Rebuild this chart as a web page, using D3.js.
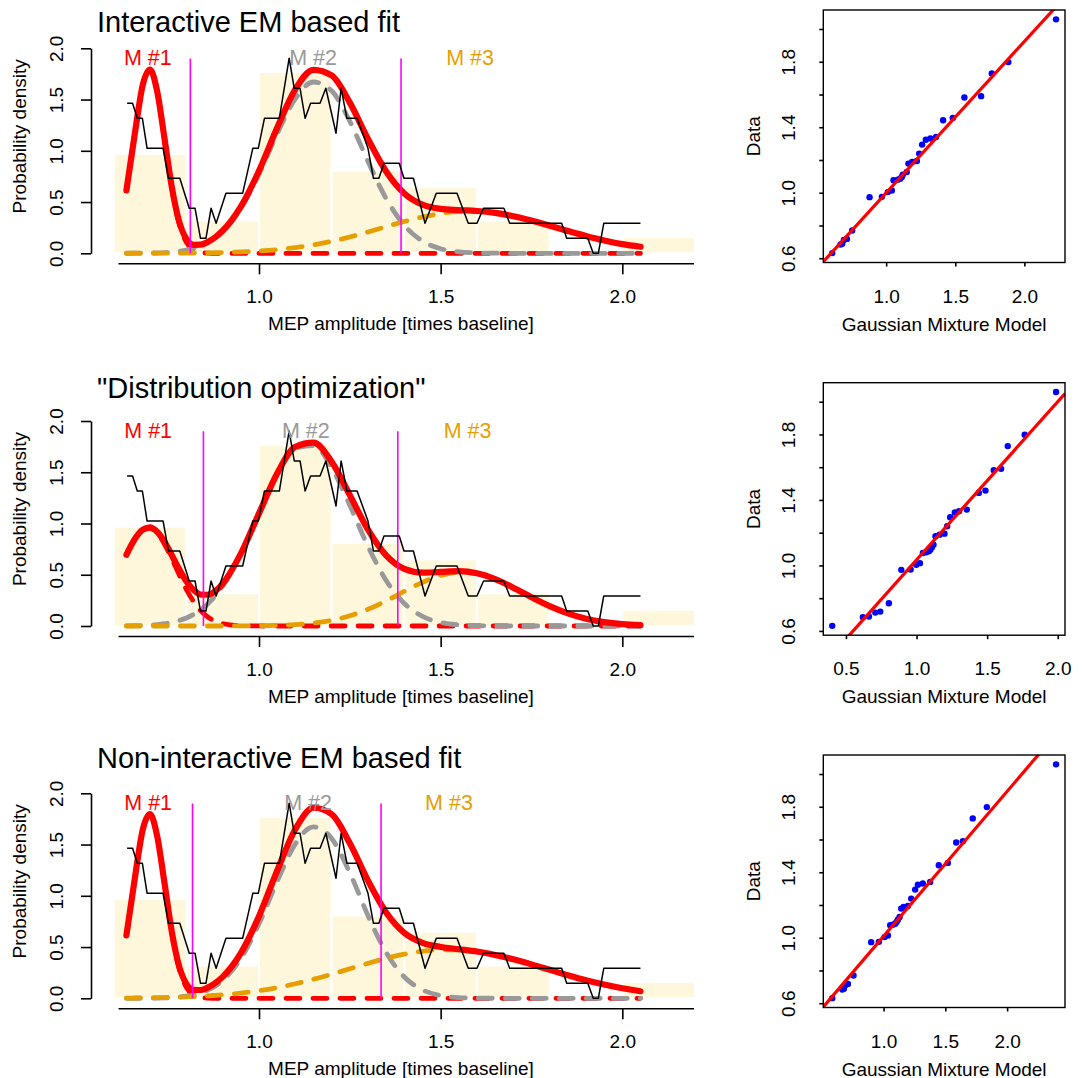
<!DOCTYPE html>
<html>
<head>
<meta charset="utf-8">
<script src="https://cdn.jsdelivr.net/npm/d3@7"></script>
<style>
  body { margin: 0; background: #fff; }
  svg { display: block; }
</style>
</head>
<body>
<div id="chart"></div>
<script>
// ---------- data ----------
const titles = ["Interactive EM based fit", "\"Distribution optimization\"", "Non-interactive EM based fit"];
const compLabels = ["M #1", "M #2", "M #3"];

// histogram of the amplitudes (density scale)
const histBreaks = [0.6, 0.8, 1.0, 1.2, 1.4, 1.6, 1.8, 2.0, 2.2];
const histDensity = [0.97, 0.32, 1.77, 0.81, 0.65, 0.32, 0, 0.16];

// sliding window density (black line), same in every panel
const slideX = [0.637, 0.652, 0.665, 0.679, 0.692, 0.736, 0.751, 0.782, 0.808, 0.824, 0.839, 0.854, 0.868, 0.882, 0.909, 0.955, 0.983, 0.998, 1.015, 1.056, 1.083, 1.097, 1.113, 1.127, 1.142, 1.168, 1.184, 1.212, 1.226, 1.242, 1.270, 1.300, 1.315, 1.330, 1.344, 1.386, 1.399, 1.425, 1.457, 1.488, 1.545, 1.576, 1.600, 1.618, 1.674, 1.690, 1.833, 1.847, 1.905, 1.920, 1.934, 1.949, 2.050];
const slideY = [1.463, 1.463, 1.317, 1.317, 1.024, 1.024, 0.732, 0.732, 0.439, 0.439, 0.146, 0.146, 0.439, 0.293, 0.585, 0.585, 1.024, 1.024, 1.317, 1.317, 1.903, 1.610, 1.610, 1.317, 1.463, 1.463, 1.610, 1.171, 1.610, 1.317, 1.317, 1.024, 0.732, 0.732, 0.878, 0.878, 0.732, 0.732, 0.293, 0.585, 0.585, 0.293, 0.293, 0.439, 0.439, 0.293, 0.293, 0.146, 0.146, 0, 0, 0.293, 0.293];

// x positions where the fitted curves were read
const curveX = [0.635, 0.66, 0.68, 0.70, 0.72, 0.74, 0.76, 0.78, 0.80, 0.82, 0.84, 0.86, 0.88, 0.90, 0.95, 1.00, 1.05, 1.10, 1.15, 1.20, 1.25, 1.30, 1.35, 1.40, 1.45, 1.50, 1.55, 1.60, 1.65, 1.70, 1.75, 1.80, 1.85, 1.90, 1.95, 2.00, 2.05];

// panel 1: interactive EM
const fit1Total = [0.613, 1.211, 1.642, 1.793, 1.575, 1.118, 0.647, 0.313, 0.141, 0.083, 0.084, 0.113, 0.158, 0.220, 0.455, 0.805, 1.225, 1.600, 1.790, 1.735, 1.470, 1.115, 0.798, 0.584, 0.474, 0.433, 0.421, 0.413, 0.394, 0.362, 0.319, 0.269, 0.218, 0.169, 0.125, 0.089, 0.064];
const fit1M1 = [0.612, 1.21, 1.64, 1.79, 1.57, 1.11, 0.633, 0.291, 0.107, 0.032, 0.008, 0.002, 0, 0, 0, 0, 0, 0, 0, 0, 0, 0, 0, 0, 0, 0, 0, 0, 0, 0, 0, 0, 0, 0, 0, 0, 0];
const fit1M2 = [0.0003, 0.0008, 0.0014, 0.0025, 0.0044, 0.0074, 0.012, 0.020, 0.032, 0.049, 0.073, 0.107, 0.153, 0.213, 0.438, 0.772, 1.166, 1.508, 1.671, 1.585, 1.288, 0.896, 0.534, 0.273, 0.119, 0.045, 0.014, 0.004, 0.001, 0, 0, 0, 0, 0, 0, 0, 0];
const fit1M3 = [0.0002, 0.0003, 0.0004, 0.0005, 0.0007, 0.0009, 0.0012, 0.0016, 0.0021, 0.0027, 0.0035, 0.0046, 0.0058, 0.0074, 0.013, 0.022, 0.036, 0.056, 0.082, 0.117, 0.159, 0.208, 0.259, 0.310, 0.354, 0.388, 0.407, 0.409, 0.393, 0.362, 0.319, 0.269, 0.218, 0.169, 0.125, 0.089, 0.064];
const fit1Cuts = [0.811, 1.391];
const fit1Means = [0.694, 1.149, 1.581];

// panel 2: distribution optimization
const fit2Total = [0.695, 0.859, 0.941, 0.962, 0.917, 0.821, 0.691, 0.555, 0.436, 0.351, 0.306, 0.305, 0.342, 0.413, 0.706, 1.099, 1.487, 1.749, 1.789, 1.602, 1.277, 0.940, 0.689, 0.557, 0.520, 0.528, 0.535, 0.514, 0.457, 0.374, 0.281, 0.194, 0.123, 0.071, 0.038, 0.018, 0.008];
const fit2M1 = [0.693, 0.856, 0.936, 0.953, 0.903, 0.798, 0.656, 0.502, 0.358, 0.238, 0.147, 0.085, 0.046, 0.023, 0.003, 0.0003, 0, 0, 0, 0, 0, 0, 0, 0, 0, 0, 0, 0, 0, 0, 0, 0, 0, 0, 0, 0, 0];
const fit2M2 = [0.0016, 0.0031, 0.0053, 0.0088, 0.0143, 0.0226, 0.035, 0.053, 0.078, 0.113, 0.159, 0.220, 0.296, 0.390, 0.702, 1.096, 1.481, 1.735, 1.760, 1.546, 1.177, 0.777, 0.444, 0.220, 0.094, 0.035, 0.011, 0.003, 0.001, 0, 0, 0, 0, 0, 0, 0, 0];
const fit2M3 = [0, 0, 0, 0, 0, 0, 0, 0, 0, 0, 0, 0, 0, 0.0003, 0.0008, 0.0023, 0.0058, 0.0135, 0.0287, 0.0558, 0.0995, 0.163, 0.245, 0.337, 0.426, 0.493, 0.524, 0.511, 0.456, 0.374, 0.281, 0.194, 0.123, 0.071, 0.038, 0.018, 0.008];
const fit2Cuts = [0.847, 1.382];
const fit2Means = [0.695, 1.129, 1.574];

// panel 3: non-interactive EM
const fit3Total = [0.614, 1.213, 1.644, 1.796, 1.578, 1.122, 0.649, 0.315, 0.142, 0.083, 0.081, 0.107, 0.150, 0.209, 0.440, 0.801, 1.245, 1.649, 1.859, 1.795, 1.512, 1.148, 0.837, 0.638, 0.541, 0.501, 0.479, 0.456, 0.423, 0.380, 0.331, 0.278, 0.225, 0.176, 0.134, 0.098, 0.069];
const fit3M1 = [0.612, 1.21, 1.64, 1.79, 1.57, 1.11, 0.633, 0.291, 0.107, 0.032, 0.008, 0.002, 0, 0, 0, 0, 0, 0, 0, 0, 0, 0, 0, 0, 0, 0, 0, 0, 0, 0, 0, 0, 0, 0, 0, 0, 0];
const fit3M2 = [0.0001, 0.0003, 0.0007, 0.0013, 0.0023, 0.0042, 0.0074, 0.0127, 0.021, 0.034, 0.053, 0.082, 0.121, 0.175, 0.389, 0.727, 1.141, 1.507, 1.673, 1.560, 1.224, 0.807, 0.447, 0.208, 0.082, 0.027, 0.007, 0.002, 0.0003, 0, 0, 0, 0, 0, 0, 0, 0];
const fit3M3 = [0.0022, 0.003, 0.0038, 0.0047, 0.0059, 0.0073, 0.009, 0.011, 0.0136, 0.0165, 0.020, 0.024, 0.029, 0.034, 0.051, 0.074, 0.104, 0.142, 0.186, 0.235, 0.288, 0.341, 0.390, 0.430, 0.459, 0.474, 0.472, 0.455, 0.423, 0.380, 0.331, 0.278, 0.225, 0.176, 0.134, 0.098, 0.069];
const fit3Cuts = [0.817, 1.336];
const fit3Means = [0.695, 1.135, 1.523];

// QQ plots: sorted data vs model quantiles
const qqData = [0.631, 0.684, 0.688, 0.712, 0.718, 0.769, 0.973, 0.975, 1.004, 1.014, 1.076, 1.080, 1.086, 1.096, 1.110, 1.127, 1.178, 1.188, 1.194, 1.239, 1.294, 1.324, 1.331, 1.341, 1.443, 1.457, 1.582, 1.590, 1.729, 1.798, 2.059];
const qq1Model = [0.610, 0.670, 0.682, 0.694, 0.716, 0.754, 0.880, 0.969, 1.012, 1.041, 1.053, 1.084, 1.101, 1.113, 1.120, 1.149, 1.161, 1.188, 1.222, 1.239, 1.260, 1.287, 1.320, 1.361, 1.412, 1.482, 1.566, 1.687, 1.764, 1.884, 2.229];
const qq2Model = [0.403, 0.620, 0.663, 0.708, 0.743, 0.804, 0.892, 0.958, 0.998, 1.024, 1.045, 1.068, 1.087, 1.097, 1.108, 1.120, 1.134, 1.163, 1.198, 1.217, 1.238, 1.271, 1.300, 1.356, 1.441, 1.488, 1.547, 1.599, 1.646, 1.766, 1.988];
const qq3Model = [0.585, 0.666, 0.679, 0.693, 0.712, 0.757, 0.900, 0.962, 1.008, 1.035, 1.054, 1.075, 1.094, 1.105, 1.116, 1.130, 1.143, 1.162, 1.197, 1.224, 1.256, 1.278, 1.318, 1.377, 1.447, 1.520, 1.588, 1.642, 1.722, 1.836, 2.396];
const qq1Line = [0.074, 0.925];   // intercept, slope
const qq2Line = [0.068, 0.966];
const qq3Line = [0.124, 0.885];

// tick labels
const fitXTicks = [1.0, 1.5, 2.0];
const fitYTicks = [0, 0.5, 1.0, 1.5, 2.0];
const qqYTicks = [0.6, 0.8, 1.0, 1.2, 1.4, 1.6, 1.8, 2.0];
const qqYLabelled = [0.6, 1.0, 1.4, 1.8];
const qqXTicks = [[1.0, 1.5, 2.0], [0.5, 1.0, 1.5, 2.0], [1.0, 1.5, 2.0]];

const fits = [
  { total: fit1Total, comps: [fit1M1, fit1M2, fit1M3], cuts: fit1Cuts, means: fit1Means, qqX: qq1Model, qqLine: qq1Line },
  { total: fit2Total, comps: [fit2M1, fit2M2, fit2M3], cuts: fit2Cuts, means: fit2Means, qqX: qq2Model, qqLine: qq2Line },
  { total: fit3Total, comps: [fit3M1, fit3M2, fit3M3], cuts: fit3Cuts, means: fit3Means, qqX: qq3Model, qqLine: qq3Line }
];

// ---------- layout ----------
const font = '"Liberation Sans", Arial, Helvetica, sans-serif';
const compColors = ["#ff0000", "#999999", "#e69f00"];
const rowZero = [253.3, 626, 998.3];   // pixel row of density 0 in each fit panel
const titleY = [32.3, 398.3, 768.3];
const fmt = d3.format(".1f");

const svg = d3.select("#chart").append("svg")
  .attr("width", 1084)
  .attr("height", 1078)
  .attr("font-family", font);

const x = d3.scaleLinear().domain([1, 2]).range([259, 622.3]);

fits.forEach((f, i) => {
  drawFit(f, i);
  drawQQ(f, i);
});

function styleAxis(g) {
  g.attr("font-size", 19).attr("font-family", font);
  g.selectAll("path, line").attr("stroke", "#000").attr("stroke-width", 1.6);
  g.selectAll("text").attr("fill", "#000");
}

function drawFit(f, i) {
  const z = rowZero[i];
  const y = d3.scaleLinear().domain([0, 2]).range([z, z - 205]);
  const g = svg.append("g");

  // histogram
  g.selectAll("rect.bar")
    .data(histDensity)
    .enter().append("rect")
    .attr("class", "bar")
    .attr("x", (d, k) => x(histBreaks[k]))
    .attr("width", (d, k) => x(histBreaks[k + 1]) - x(histBreaks[k]))
    .attr("y", d => y(d))
    .attr("height", d => y(0) - y(d))
    .attr("fill", d => d > 0 ? "#fff7dc" : "none")
    .attr("stroke", d => d > 0 ? "#fff" : "none")
    .attr("stroke-width", 2);

  const line = d3.line()
    .x(d => x(d[0]))
    .y(d => y(d[1]))
    .curve(d3.curveMonotoneX);
  const pts = arr => curveX.map((v, k) => [v, arr[k]]);

  // components, dashed
  f.comps.forEach((c, k) => {
    g.append("path")
      .attr("d", line(pts(c)))
      .attr("fill", "none")
      .attr("stroke", compColors[k])
      .attr("stroke-width", 4.8)
      .attr("stroke-dasharray", "14,13")
      .attr("stroke-linecap", "round");
  });

  // mixture
  g.append("path")
    .attr("d", line(pts(f.total)))
    .attr("fill", "none")
    .attr("stroke", "#ff0000")
    .attr("stroke-width", 6.2)
    .attr("stroke-linecap", "round")
    .attr("stroke-linejoin", "round");

  // cut points
  g.selectAll("line.cut")
    .data(f.cuts)
    .enter().append("line")
    .attr("class", "cut")
    .attr("x1", d => x(d)).attr("x2", d => x(d))
    .attr("y1", y(0)).attr("y2", y(1.9))
    .attr("stroke", "#ff00ff")
    .attr("stroke-width", 1.6);

  // sliding window density
  g.append("path")
    .attr("d", d3.line().x(d => x(d[0])).y(d => y(d[1]))(slideX.map((v, k) => [v, slideY[k]])))
    .attr("fill", "none")
    .attr("stroke", "#000")
    .attr("stroke-width", 1.5)
    .attr("stroke-linejoin", "round");

  // component labels
  g.selectAll("text.comp")
    .data(f.means)
    .enter().append("text")
    .attr("class", "comp")
    .attr("x", d => x(d))
    .attr("y", y(1.9))
    .attr("dy", "0.3em")
    .attr("text-anchor", "middle")
    .attr("font-size", 21.5)
    .attr("fill", (d, k) => compColors[k])
    .text((d, k) => compLabels[k]);

  // axes
  const xAxisScale = x.copy().domain([0.612, 2.196]).range([x(0.612), x(2.196)]);
  const xa = g.append("g")
    .attr("transform", `translate(0,${z + 10})`)
    .call(d3.axisBottom(xAxisScale).tickValues(fitXTicks).tickFormat(fmt).tickSize(11).tickSizeOuter(0));
  styleAxis(xa);
  xa.selectAll(".tick text").attr("y", 39.5).attr("dy", 0);

  const ya = g.append("g")
    .attr("transform", "translate(91,0)")
    .call(d3.axisLeft(y).tickValues(fitYTicks).tickFormat(fmt).tickSize(10).tickSizeOuter(0));
  styleAxis(ya);
  ya.selectAll(".tick text")
    .attr("transform", "rotate(-90)")
    .attr("x", 0).attr("y", -28).attr("dy", 0)
    .attr("text-anchor", "middle");

  // titles
  g.append("text")
    .attr("x", 97).attr("y", titleY[i])
    .attr("font-size", 29)
    .text(titles[i]);

  g.append("text")
    .attr("x", 401).attr("y", z + 77)
    .attr("text-anchor", "middle")
    .attr("font-size", 19)
    .text("MEP amplitude [times baseline]");

  g.append("text")
    .attr("transform", `translate(26,${z - 117}) rotate(-90)`)
    .attr("text-anchor", "middle")
    .attr("font-size", 19)
    .text("Probability density");
}

function drawQQ(f, i) {
  const z = rowZero[i];
  const top = z - 243.3, bottom = z + 9.2, left = 823.3, right = 1065;
  const pad = e => { const r = e[1] - e[0]; return [e[0] - 0.04 * r, e[1] + 0.04 * r]; };

  const qx = d3.scaleLinear().domain(pad(d3.extent(f.qqX))).range([left, right]);
  const qy = d3.scaleLinear().domain(pad(d3.extent(qqData))).range([bottom, top]);
  const g = svg.append("g");

  g.append("clipPath").attr("id", "qqclip" + i)
    .append("rect")
    .attr("x", left).attr("y", top)
    .attr("width", right - left).attr("height", bottom - top);

  g.selectAll("circle")
    .data(f.qqX)
    .enter().append("circle")
    .attr("cx", d => qx(d))
    .attr("cy", (d, k) => qy(qqData[k]))
    .attr("r", 3.2)
    .attr("fill", "#0000ff");

  const [a, b] = f.qqLine;
  const [x0, x1] = qx.domain();
  g.append("line")
    .attr("clip-path", `url(#qqclip${i})`)
    .attr("x1", qx(x0)).attr("y1", qy(a + b * x0))
    .attr("x2", qx(x1)).attr("y2", qy(a + b * x1))
    .attr("stroke", "#ff0000")
    .attr("stroke-width", 3.2);

  g.append("rect")
    .attr("x", left).attr("y", top)
    .attr("width", right - left).attr("height", bottom - top)
    .attr("fill", "none")
    .attr("stroke", "#000")
    .attr("stroke-width", 1.4);

  const xa = g.append("g")
    .attr("transform", `translate(0,${bottom})`)
    .call(d3.axisBottom(qx).tickValues(qqXTicks[i]).tickFormat(fmt).tickSize(4).tickSizeOuter(0));
  styleAxis(xa);
  xa.select(".domain").remove();
  xa.selectAll(".tick text").attr("y", 40).attr("dy", 0);

  const ya = g.append("g")
    .attr("transform", `translate(${left},0)`)
    .call(d3.axisLeft(qy).tickValues(qqYTicks)
      .tickFormat(d => qqYLabelled.some(v => Math.abs(v - d) < 1e-6) ? fmt(d) : "")
      .tickSize(4).tickSizeOuter(0));
  styleAxis(ya);
  ya.select(".domain").remove();
  ya.selectAll(".tick text")
    .attr("transform", "rotate(-90)")
    .attr("x", 0).attr("y", -28).attr("dy", 0)
    .attr("text-anchor", "middle");

  g.append("text")
    .attr("x", (left + right) / 2).attr("y", bottom + 68)
    .attr("text-anchor", "middle")
    .attr("font-size", 19)
    .text("Gaussian Mixture Model");

  g.append("text")
    .attr("transform", `translate(760,${(top + bottom) / 2}) rotate(-90)`)
    .attr("text-anchor", "middle")
    .attr("font-size", 19)
    .text("Data");
}
</script>
</body>
</html>
